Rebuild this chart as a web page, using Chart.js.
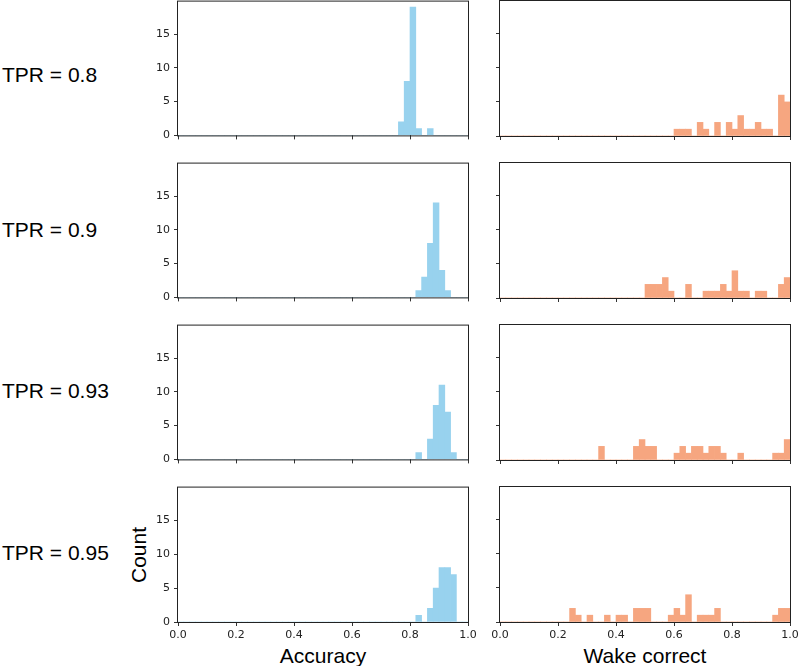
<!DOCTYPE html>
<html lang="en">
<head>
<meta charset="UTF-8">
<title>Accuracy / wake correct histograms</title>
<script src="https://cdn.jsdelivr.net/npm/chart.js@4"></script>
<style>
    body {
        margin: 0;
        background: #ffffff;
        width: 800px;
        height: 666px;
        position: relative;
        overflow: hidden;
        font-family: "Liberation Sans", Arial, sans-serif;
    }
    .panel { position: absolute; }
    .lbl {
        position: absolute;
        font-size: 21px;
        line-height: 24px;
        color: #000;
        white-space: nowrap;
    }
</style>
</head>
<body>

<div class="lbl" style="left:2px; top:63px;">TPR = 0.8</div>
<div class="lbl" style="left:2px; top:218px;">TPR = 0.9</div>
<div class="lbl" style="left:2px; top:379px;">TPR = 0.93</div>
<div class="lbl" style="left:2px; top:541px;">TPR = 0.95</div>
<div class="lbl" style="left:127px; top:543px; width:24px; height:24px; transform:rotate(-90deg); display:flex; justify-content:center;">Count</div>
<div class="lbl" style="left:178px; width:290px; top:644px; text-align:center;">Accuracy</div>
<div class="lbl" style="left:500px; width:290px; top:644px; text-align:center;">Wake correct</div>

<script>
// histogram counts, 50 bins of width 0.02 from 0 to 1
const binWidth = 0.02;

const accuracy080 = [
    0,0,0,0,0,0,0,0,0,0,
    0,0,0,0,0,0,0,0,0,0,
    0,0,0,0,0,0,0,0,0,0,
    0,0,0,0,0,0,0,0,2,8,
    19,1,0,1,0,0,0,0,0,0
];
const accuracy090 = [
    0,0,0,0,0,0,0,0,0,0,
    0,0,0,0,0,0,0,0,0,0,
    0,0,0,0,0,0,0,0,0,0,
    0,0,0,0,0,0,0,0,0,0,
    0,1,3,8,14,4,1,0,0,0
];
const accuracy093 = [
    0,0,0,0,0,0,0,0,0,0,
    0,0,0,0,0,0,0,0,0,0,
    0,0,0,0,0,0,0,0,0,0,
    0,0,0,0,0,0,0,0,0,0,
    0,1,0,3,8,11,7,1,0,0
];
const accuracy095 = [
    0,0,0,0,0,0,0,0,0,0,
    0,0,0,0,0,0,0,0,0,0,
    0,0,0,0,0,0,0,0,0,0,
    0,0,0,0,0,0,0,0,0,0,
    0,1,0,2,5,8,8,7,0,0
];

const wake080 = [
    0,0,0,0,0,0,0,0,0,0,
    0,0,0,0,0,0,0,0,0,0,
    0,0,0,0,0,0,0,0,0,0,
    1,1,1,0,2,1,0,2,0,2,
    1,3,1,1,2,1,1,0,6,5
];
const wake090 = [
    0,0,0,0,0,0,0,0,0,0,
    0,0,0,0,0,0,0,0,0,0,
    0,0,0,0,0,2,2,2,3,1,
    0,0,2,0,0,1,1,1,2,1,
    4,1,1,0,1,1,0,0,2,3
];
const wake093 = [
    0,0,0,0,0,0,0,0,0,0,
    0,0,0,0,0,0,0,2,0,0,
    0,0,0,2,3,2,2,0,0,0,
    1,2,1,2,2,1,2,2,1,0,
    0,1,0,0,0,0,0,1,1,3
];
const wake095 = [
    0,0,0,0,0,0,0,0,0,0,
    0,0,2,1,0,1,0,0,1,0,
    1,1,0,2,2,2,0,0,0,1,
    2,1,4,0,1,1,1,2,0,0,
    0,0,0,0,0,0,0,1,2,2
];

const xTicks = [0, 0.2, 0.4, 0.6, 0.8, 1.0];
const yTicks = [0, 5, 10, 15];
const yMax = 19.95;

const blue = 'rgb(152, 210, 238)';
const orange = 'rgb(246, 166, 128)';

// matplotlib-style box around each axes
const frame = {
    id: 'frame',
    afterDraw(chart) {
        const a = chart.chartArea;
        const ctx = chart.ctx;
        ctx.save();
        ctx.strokeStyle = '#222';
        ctx.lineWidth = 1;
        ctx.strokeRect(a.left - 0.5, a.top + 0.5, a.width + 1, a.height);
        ctx.restore();
    }
};

function panel(left, top, width, height, counts, color, leftCol, bottomRow) {
    const div = document.createElement('div');
    div.className = 'panel';
    div.style.left = left + 'px';
    div.style.top = top + 'px';
    const cv = document.createElement('canvas');
    cv.width = width;
    cv.height = height;
    div.appendChild(cv);
    document.body.appendChild(div);

    const points = counts.map((c, i) => ({ x: (i + 0.5) * binWidth, y: c }));

    new Chart(cv, {
        type: 'bar',
        data: {
            datasets: [{
                data: points,
                backgroundColor: color,
                borderWidth: 0,
                barPercentage: 1,
                categoryPercentage: 1
            }]
        },
        options: {
            responsive: false,
            animation: false,
            devicePixelRatio: 1,
            layout: {
                padding: { left: 5, right: leftCol ? 15 : 25, top: 10, bottom: bottomRow ? 4 : 2 }
            },
            plugins: { legend: { display: false }, tooltip: { enabled: false } },
            scales: {
                x: {
                    type: 'linear',
                    min: 0,
                    max: 1,
                    offset: false,
                    border: { display: false },
                    grid: { offset: false, drawOnChartArea: false, drawTicks: true, tickLength: 4, color: '#333' },
                    ticks: {
                        display: bottomRow,
                        padding: 3,
                        color: '#222',
                        font: { family: 'DejaVu Sans', size: 11 },
                        callback: v => v.toFixed(1)
                    },
                    afterBuildTicks: s => { s.ticks = xTicks.map(v => ({ value: v })); },
                    afterFit: s => { s.height = bottomRow ? 26 : 8; }
                },
                y: {
                    min: 0,
                    max: yMax,
                    border: { display: false },
                    grid: { drawOnChartArea: false, drawTicks: true, tickLength: 4, color: '#333' },
                    ticks: {
                        display: leftCol,
                        padding: 4,
                        color: '#222',
                        font: { family: 'DejaVu Sans', size: 11 }
                    },
                    afterBuildTicks: s => { s.ticks = yTicks.map(v => ({ value: v })); },
                    afterFit: s => { s.width = leftCol ? 40 : 10; }
                }
            }
        },
        plugins: [frame]
    });
}

const rowTops = [0, 162, 324, 486];
const accRows = [accuracy080, accuracy090, accuracy093, accuracy095];
const wakeRows = [wake080, wake090, wake093, wake095];

rowTops.forEach((t, r) => {
    const last = r === rowTops.length - 1;
    const h = last ? 10 + 136 + 26 + 4 : 10 + 136 + 8 + 2;
    panel(133, t - 10, 350, h, accRows[r], blue, true, last);
    panel(485, t - 10, 330, h, wakeRows[r], orange, false, last);
});
</script>
</body>
</html>
